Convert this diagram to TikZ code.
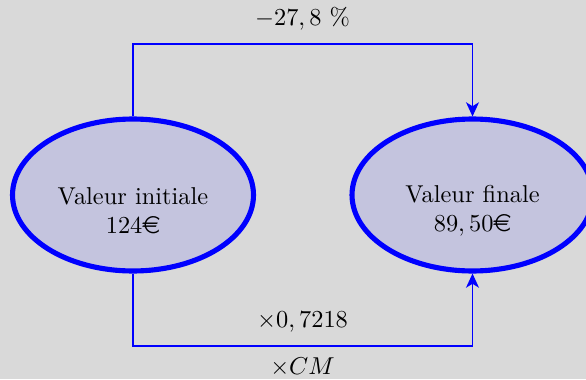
\documentclass[tikz,border=0pt]{standalone}
\usepackage{eurosym}
\usetikzlibrary{arrows.meta,shapes.geometric}
\definecolor{bgc}{RGB}{217,217,217}
\definecolor{ellfill}{RGB}{196,196,222}
\begin{document}
\begin{tikzpicture}[x=0.41pt,y=-0.41pt,
  ell/.style={ellipse,draw=blue,fill=ellfill,line width=2.1pt,
    minimum width=98.8pt,minimum height=62.3pt,inner sep=0pt},
  txt/.style={align=center,inner sep=0pt},
  conn/.style={draw=blue,line width=0.6pt,-{Stealth[length=5.8pt,width=5.3pt,inset=1.6pt]}},
  lab/.style={inner sep=0pt}]
\fill[bgc] (0,0) rectangle (586,379);
\useasboundingbox (0,0) rectangle (586,379);
\node[ell] (L) at (133,195) {};
\node[ell] (R) at (472.5,195) {};
\node[txt] (Lt) at (133,211) {Valeur initiale\\$124$\euro};
\node[txt] (Rt) at (472.5,211) {Valeur finale\\$89,50$\euro};
\coordinate (top) at (302.5,44);
\coordinate (bot) at (302.5,346);
\draw[conn] (L.north) |- (top) -| (R.north);
\draw[conn] (L.south) |- (bot) -| (R.south);
\node[lab] (t1) at (302.5,19) {$-27,8$ \%};
\node[lab] (t2) at (302.5,322) {$\times 0,7218$};
\node[lab] (t3) at (302.5,367) {$\times CM$};
\end{tikzpicture}
\end{document}
